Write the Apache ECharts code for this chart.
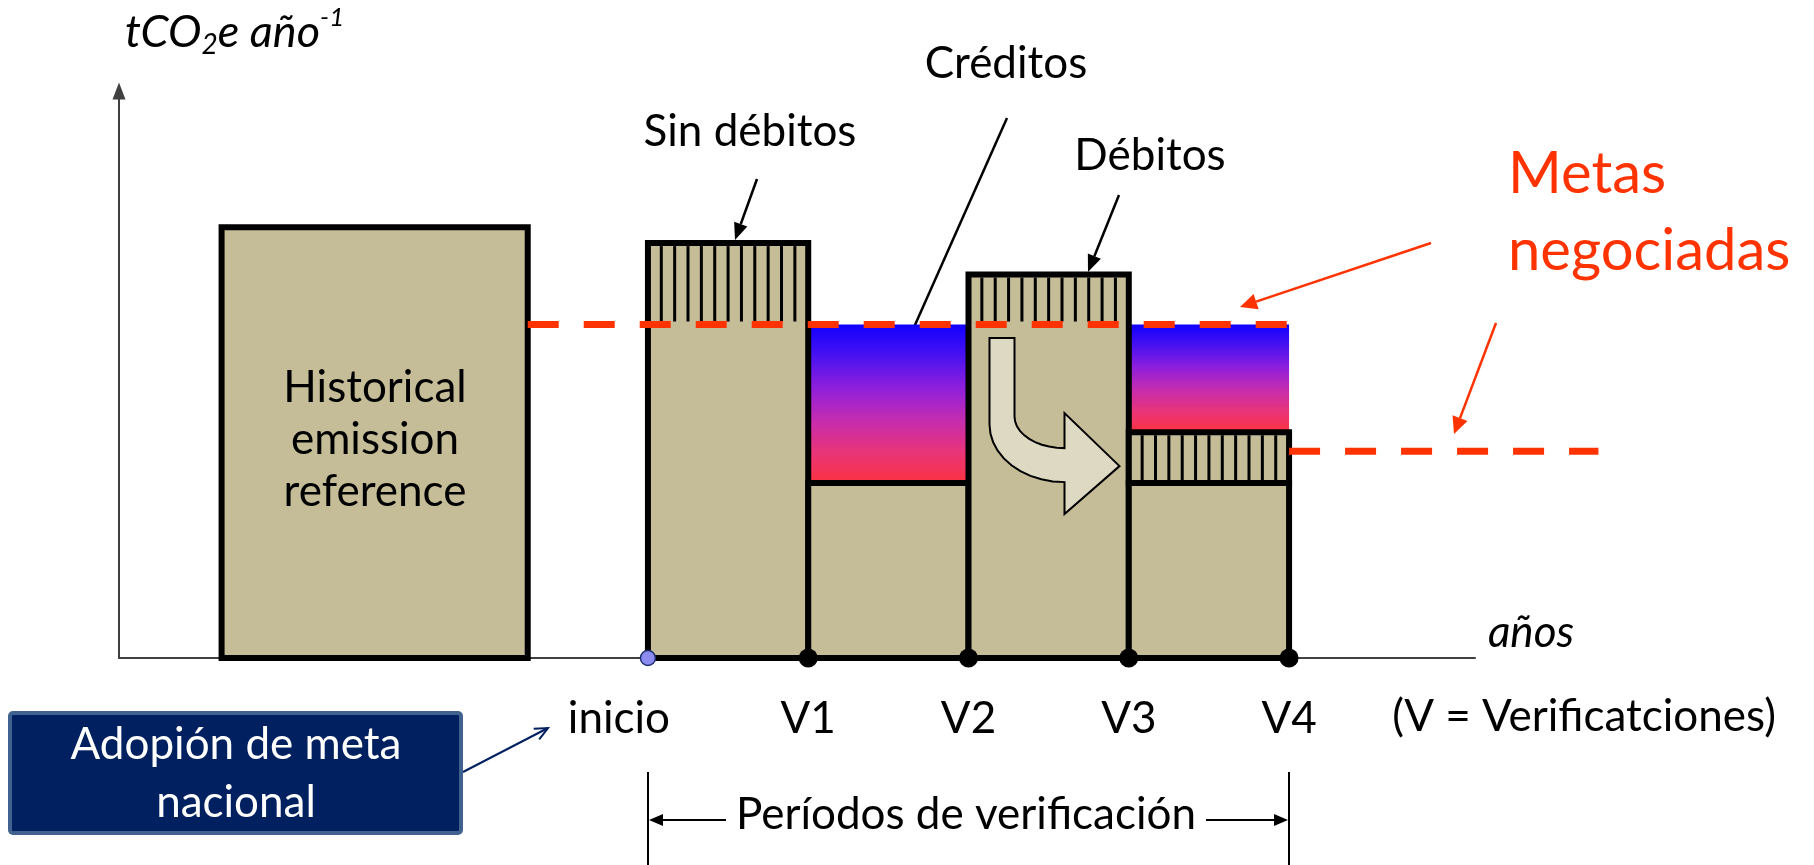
<!DOCTYPE html>
<html><head><meta charset="utf-8">
<script src="https://cdn.jsdelivr.net/npm/echarts@6/dist/echarts.min.js"></script>
<style>html,body{margin:0;padding:0;background:#fff}#c{width:1814px;height:865px}</style>
</head><body><div id="c"></div>
<script>
// ---------- data (arbitrary units) ----------
const verifLabels = ['inicio', 'V1', 'V2', 'V3', 'V4'];
const verifX = [0, 1, 2, 3, 4];                 // verification instants
const historicalSpan = [-2.66, -0.75];          // x extent of the historical box
const historicalValue = 100;                    // historical emission reference
const emissions = [96.3, 40.6, 89.0, 40.6];     // emissions in each verification period
const targetA = 77.4;                           // first negotiated target
const targetASpan = [-0.75, 4];
const targetB = 48.0;                           // second negotiated target
const targetBSpan = [4, 5.93];
const debitTransfer = { from: 2, to: 3, amount: 11.8 }; // débito of period 3 carried into period 4
const xRange = [-3.3, 5.16];
const yRange = [0, 131.6];

// ---------- derived mark tables ----------
const tanRects = [[historicalSpan[0], historicalSpan[1], 0, historicalValue]];
const hatchRects = [];
const creditRects = [];
emissions.forEach((v, i) => {
  const x0 = verifX[i], x1 = verifX[i + 1];
  tanRects.push([x0, x1, 0, v]);
  let top = v;
  if (debitTransfer.to === i) {
    tanRects.push([x0, x1, v, v + debitTransfer.amount]);
    hatchRects.push([x0, x1, v, v + debitTransfer.amount]);
    top = v + debitTransfer.amount;
  }
  if (top > targetA) hatchRects.push([x0, x1, targetA, top]);
  else creditRects.push([x0, x1, top, targetA]);
});
const transferData = [[verifX[debitTransfer.from], targetA]];
const targetLines = [
  [targetASpan[0], targetASpan[1], targetA],
  [targetBSpan[0], targetBSpan[1], targetB]
];

const TAN = '#c4bd97';
const FONT = 'Lato';
const FS = 44;

function rectPx(api) {
  const p0 = api.coord([api.value(0), api.value(3)]);
  const p1 = api.coord([api.value(1), api.value(2)]);
  return { x: p0[0], y: p0[1], width: p1[0] - p0[0], height: p1[1] - p0[1] };
}

function arrow(x1, y1, x2, y2, color, lw, hl, hw, open) {
  const a = Math.atan2(y2 - y1, x2 - x1);
  const bx = x2 - hl * Math.cos(a), by = y2 - hl * Math.sin(a);
  const px = -Math.sin(a) * hw, py = Math.cos(a) * hw;
  const els = [{ type: 'line', shape: { x1: x1, y1: y1, x2: open ? x2 : bx, y2: open ? y2 : by },
    style: { stroke: color, lineWidth: lw } }];
  if (open) els.push({ type: 'polyline', shape: { points: [[bx + px, by + py], [x2, y2], [bx - px, by - py]] },
    style: { stroke: color, lineWidth: lw, fill: null } });
  else els.push({ type: 'polygon', shape: { points: [[x2, y2], [bx + px, by + py], [bx - px, by - py]] },
    style: { fill: color } });
  return els;
}

function txt(text, x, y, opts) {
  opts = opts || {};
  return { type: 'text', z: 100, style: Object.assign({
    text: text, x: x, y: y, fill: '#000', fontFamily: FONT, fontSize: FS,
    align: 'left', textAlign: 'left', verticalAlign: 'middle', textVerticalAlign: 'middle'
  }, opts) };
}
function center(o) { return Object.assign({ align: 'center', textAlign: 'center' }, o || {}); }

const graphics = [
  // y-axis title with sub/superscript
  { type: 'text', z: 100, style: {
      x: 125, y: 5, align: 'left', textAlign: 'left', verticalAlign: 'top', textVerticalAlign: 'top',
      text: '{a|tCO}{s|2}{a|e año}{p|-1}',
      rich: {
        a: { fontFamily: FONT, fontStyle: 'italic', fontSize: 45, lineHeight: 54, verticalAlign: 'middle', fill: '#000' },
        s: { fontFamily: FONT, fontStyle: 'italic', fontSize: 28, lineHeight: 34, verticalAlign: 'bottom', fill: '#000' },
        p: { fontFamily: FONT, fontStyle: 'italic', fontSize: 26, lineHeight: 48, verticalAlign: 'top', fill: '#000' }
      } } },
  txt('Historical\nemission\nreference', 375, 440, center({ lineHeight: 52 })),
  txt('Sin débitos', 750, 132, center()),
  txt('Créditos', 1006, 64, center()),
  txt('Débitos', 1150, 156, center()),
  txt('Metas', 1508, 174, { fill: '#ff3300', fontSize: 58 }),
  txt('negociadas', 1508, 251, { fill: '#ff3300', fontSize: 58 }),
  txt('años', 1531, 633, center({ fontStyle: 'italic' })),
  txt('(V = Verificatciones)', 1584, 717, center()),
  txt('Períodos de verificación', 966, 815, center()),
  // navy box
  { type: 'rect', z: 90, shape: { x: 10, y: 713, width: 451, height: 120, r: 3 },
    style: { fill: '#002060', stroke: '#41628f', lineWidth: 4 } },
  txt('Adopión de meta', 236, 745, center({ fill: '#fff' })),
  txt('nacional', 236, 803, center({ fill: '#fff' })),
  // verification period bracket
  { type: 'line', shape: { x1: 648, y1: 772, x2: 648, y2: 865 }, style: { stroke: '#000', lineWidth: 2 } },
  { type: 'line', shape: { x1: 1289, y1: 772, x2: 1289, y2: 865 }, style: { stroke: '#000', lineWidth: 2 } }
]
  .concat(arrow(726, 820, 649, 820, '#000', 2, 14, 6))
  .concat(arrow(1206, 820, 1288, 820, '#000', 2, 14, 6))
  .concat(arrow(757, 179, 735, 240, '#000', 2.5, 17, 7))
  .concat(arrow(1007, 118, 895, 370, '#000', 2.5, 18, 7))
  .concat(arrow(1119, 195, 1088, 272, '#000', 2.5, 17, 7))
  .concat(arrow(1431, 243, 1240, 307, '#ff3300', 2.5, 17, 8))
  .concat(arrow(1496, 323, 1454, 434, '#ff3300', 2.5, 17, 8))
  .concat(arrow(463, 772, 548, 728, '#002060', 2, 13, 6, true));

const creditGradient = new echarts.graphic.LinearGradient(0, 0, 0, 1, [
  { offset: 0, color: '#1000ff' }, { offset: 0.2, color: '#4a12f0' },
  { offset: 0.4, color: '#8f1fdc' }, { offset: 0.6, color: '#c42cb0' },
  { offset: 0.8, color: '#e8347a' }, { offset: 1, color: '#fb3340' }
]);

const chart = echarts.init(document.getElementById('c'), null, { renderer: 'canvas' });
chart.setOption({
  animation: false,
  backgroundColor: '#fff',
  grid: { left: 119, right: 339, top: 91, bottom: 207, containLabel: false },
  xAxis: { type: 'value', min: xRange[0], max: xRange[1],
    axisLine: { show: true, onZero: true, lineStyle: { color: '#404040', width: 2 } },
    axisTick: { show: false }, axisLabel: { show: false }, splitLine: { show: false } },
  yAxis: { type: 'value', min: yRange[0], max: yRange[1],
    axisLine: { show: true, onZero: false, symbol: ['none', 'triangle'], symbolSize: [13, 17],
      lineStyle: { color: '#404040', width: 2 } },
    axisTick: { show: false }, axisLabel: { show: false }, splitLine: { show: false } },
  graphic: { elements: graphics },
  series: [
    { name: 'Créditos', type: 'custom', z: 1, data: creditRects, encode: { x: [0, 1], y: [2, 3] },
      renderItem: (params, api) => ({ type: 'rect', shape: rectPx(api), style: { fill: creditGradient } }) },
    { name: 'Emisiones', type: 'custom', z: 2, data: tanRects, encode: { x: [0, 1], y: [2, 3] },
      renderItem: (params, api) => ({ type: 'rect', shape: rectPx(api),
        style: { fill: TAN, stroke: '#000', lineWidth: 6 } }) },
    { name: 'Débitos', type: 'custom', z: 3, data: hatchRects, encode: { x: [0, 1], y: [2, 3] },
      renderItem: (params, api) => {
        const r = rectPx(api);
        const children = [];
        for (let k = 1; k < 12; k++) {
          const x = r.x + r.width * k / 12;
          children.push({ type: 'line', shape: { x1: x, y1: r.y + 3, x2: x, y2: r.y + r.height - 3 },
            style: { stroke: '#000', lineWidth: 3 } });
        }
        return { type: 'group', children: children };
      } },
    { name: 'Traslado', type: 'custom', z: 3, data: transferData, encode: { x: 0, y: 1 },
      renderItem: (params, api) => {
        const o = api.coord([api.value(0), api.value(1)]);
        const pts = [[21, 13.6], [46, 13.6], [46, 92]];
        for (let t = 1; t <= 10; t++) { const a = t / 10 * Math.PI / 2; pts.push([96 - 50 * Math.cos(a), 92 + 31.6 * Math.sin(a)]); }
        pts.push([96, 88.6], [151, 141.6], [96, 189.6], [96, 157.6]);
        for (let t = 9; t >= 0; t--) { const a = t / 10 * Math.PI / 2; pts.push([96 - 75 * Math.cos(a), 100 + 57.6 * Math.sin(a)]); }
        return { type: 'polygon', shape: { points: pts.map(p => [o[0] + p[0], o[1] + p[1]]) },
          style: { fill: '#ddd9c3', stroke: '#000', lineWidth: 2 } };
      } },
    { name: 'Metas negociadas', type: 'custom', z: 4, clip: false, data: targetLines, encode: { x: [0, 1], y: 2 },
      renderItem: (params, api) => {
        const a = api.coord([api.value(0), api.value(2)]);
        const b = api.coord([api.value(1), api.value(2)]);
        return { type: 'line', shape: { x1: a[0], y1: a[1], x2: b[0], y2: b[1] },
          style: { stroke: '#ff3300', lineWidth: 7, lineDash: [31, 25], lineCap: 'butt' } };
      } },
    { name: 'Verificaciones', type: 'scatter', z: 5, clip: false,
      itemStyle: { opacity: 1 },
      data: verifX.map((x, i) => i === 0 ? {
          value: [x, 0], symbolSize: 15,
          itemStyle: { color: '#8c8cf0', borderColor: '#1f2f70', borderWidth: 1.5, opacity: 1 },
          label: { offset: [-29, 61] } }
        : { value: [x, 0], symbolSize: 19, itemStyle: { color: '#000', opacity: 1 } }),
      label: { show: true, position: 'inside', offset: [0, 61], formatter: p => verifLabels[p.dataIndex],
        color: '#000', opacity: 1, fontFamily: FONT, fontSize: FS } }
  ]
});
</script></body></html>
